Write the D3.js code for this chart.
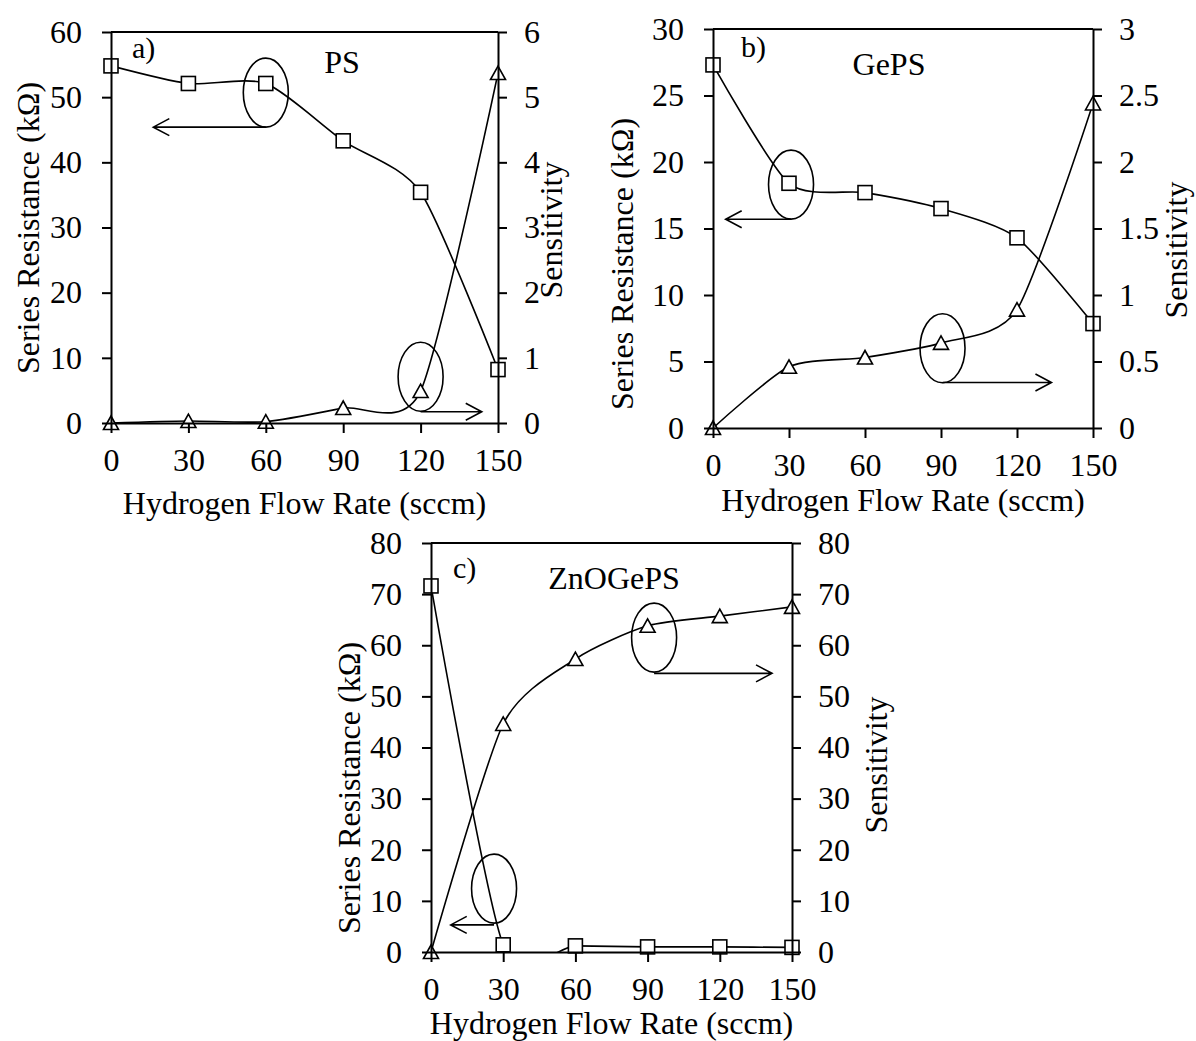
<!DOCTYPE html>
<html>
<head>
<meta charset="utf-8">
<script src="https://cdn.jsdelivr.net/npm/d3@7"></script>
<style>
  body { margin: 0; background: #fff; }
  svg text { font-family: "Liberation Serif", "Times New Roman", serif; fill: #000; }
  .axis path, .axis line { stroke: #000; stroke-width: 2; }
  .axis text { font-size: 32px; }
</style>
</head>
<body>
<script>
// --- Data ---
const flowRate = [0, 30, 60, 90, 120, 150];
const xTickValues = [0, 30, 60, 90, 120, 150];

// a) PS
const psResistance = [54.8, 52.1, 52.1, 43.3, 35.4, 8.2];
const psSensitivity = [0, 0.03, 0.02, 0.23, 0.49, 5.37];
const psResTicks = [0, 10, 20, 30, 40, 50, 60];
const psSensTicks = [0, 1, 2, 3, 4, 5, 6];

// b) GePS
const gepsResistance = [27.3, 18.4, 17.7, 16.5, 14.3, 7.85];
const gepsSensitivity = [0, 0.46, 0.53, 0.64, 0.89, 2.44];
const gepsResTicks = [0, 5, 10, 15, 20, 25, 30];
const gepsSensTicks = [0, 0.5, 1, 1.5, 2, 2.5, 3];

// c) ZnOGePS
const znoResistance = [71.6, 1.4, 1.2, 1.0, 1.0, 0.9];
const znoSensitivity = [0, 44.6, 57.3, 63.8, 65.7, 67.5];
const znoResTicks = [0, 10, 20, 30, 40, 50, 60, 70, 80];
const znoSensTicks = [0, 10, 20, 30, 40, 50, 60, 70, 80];

// ellipse + arrow annotations, in data units of the left axis: [x, y, arrowToX, arrowY]
const psMarks = [[60, 50.7, 16.4, 45.4], [120, 7.1, 143.7, 1.73]];
const gepsMarks = [[30.8, 18.3, 5.0, 15.7], [90.6, 6.0, 133.6, 3.42]];
const znoMarks = [[26.2, 12.4, 8.2, 5.3], [92.7, 61.5, 141.7, 54.5]];

const panels = [
  {id: "a", label: "a)", name: "PS", res: psResistance, sens: psSensitivity,
   resTicks: psResTicks, sensTicks: psSensTicks, marks: psMarks,
   left: 111, right: 498, top: 32, bottom: 423,
   labelPos: [132, 58], namePos: [342, 73], yTitle: [39, 228], sTitle: [562, 230], xTitleY: 514},
  {id: "b", label: "b)", name: "GePS", res: gepsResistance, sens: gepsSensitivity,
   resTicks: gepsResTicks, sensTicks: gepsSensTicks, marks: gepsMarks,
   left: 713, right: 1093, top: 29, bottom: 428,
   labelPos: [741, 57], namePos: [889, 75], yTitle: [633, 264], sTitle: [1187, 250], xTitleY: 511},
  {id: "c", label: "c)", name: "ZnOGePS", res: znoResistance, sens: znoSensitivity,
   resTicks: znoResTicks, sensTicks: znoSensTicks, marks: znoMarks,
   left: 431, right: 792, top: 543, bottom: 952,
   labelPos: [453, 578], namePos: [614, 589], yTitle: [360, 788], sTitle: [887, 765], xTitleY: 1034}
];

const svg = d3.select("body").append("svg")
    .attr("width", 1196).attr("height", 1041);

function drawPanel(p) {
    const g = svg.append("g").attr("class", "panel-" + p.id);

    const x = d3.scaleLinear().domain([0, 150]).range([p.left, p.right]);
    const yL = d3.scaleLinear().domain([0, d3.max(p.resTicks)]).range([p.bottom, p.top]);
    const yR = d3.scaleLinear().domain([0, d3.max(p.sensTicks)]).range([p.bottom, p.top]);

    // clip curves to plot area (Excel style)
    g.append("clipPath").attr("id", "clip-" + p.id)
      .append("rect")
        .attr("x", p.left).attr("y", p.top)
        .attr("width", p.right - p.left).attr("height", p.bottom - p.top);

    // smoothed lines, a bit tighter than plain Catmull-Rom
    const smooth = d3.curveCardinal.tension(0.3);
    const resLine = d3.line()
        .x((d, i) => x(flowRate[i]))
        .y(d => yL(d))
        .curve(smooth);
    const sensLine = d3.line()
        .x((d, i) => x(flowRate[i]))
        .y(d => yR(d))
        .curve(smooth);

    const curves = g.append("g").attr("clip-path", `url(#clip-${p.id})`)
        .attr("fill", "none").attr("stroke", "#000").attr("stroke-width", 1.6);
    curves.append("path").datum(p.res).attr("d", resLine);
    curves.append("path").datum(p.sens).attr("d", sensLine);

    // annotations: ellipses and arrows
    p.marks.forEach(m => {
        const cx = x(m[0]), cy = yL(m[1]);
        g.append("ellipse")
            .attr("cx", cx).attr("cy", cy).attr("rx", 22.5).attr("ry", 34.5)
            .attr("fill", "none").attr("stroke", "#000").attr("stroke-width", 1.6);
        const ax0 = x(m[0]), ax1 = x(m[2]), ay = yL(m[3]);
        const dir = ax1 > ax0 ? 1 : -1;
        g.append("path")
            .attr("d", `M${ax0},${ay}H${ax1}M${ax1 - dir * 16},${ay - 8.5}L${ax1},${ay}L${ax1 - dir * 16},${ay + 8.5}`)
            .attr("fill", "none").attr("stroke", "#000").attr("stroke-width", 1.6);
    });

    // markers
    g.append("g").selectAll("rect")
      .data(p.res)
      .join("rect")
        .attr("x", (d, i) => x(flowRate[i]) - 7)
        .attr("y", d => yL(d) - 7)
        .attr("width", 14).attr("height", 14)
        .attr("fill", "#fff").attr("stroke", "#000").attr("stroke-width", 1.6);

    g.append("g").selectAll("polygon")
      .data(p.sens)
      .join("polygon")
        .attr("points", (d, i) => {
            const cx = x(flowRate[i]), cy = yR(d);
            return `${cx - 7.5},${cy + 6.5} ${cx + 7.5},${cy + 6.5} ${cx},${cy - 7}`;
        })
        .attr("fill", "#fff").attr("stroke", "#000").attr("stroke-width", 1.6);

    // axes
    const fmt = d => String(d);
    g.append("g").attr("class", "axis")
        .attr("transform", `translate(${p.left},0)`)
        .call(d3.axisLeft(yL).tickValues(p.resTicks).tickFormat(fmt)
              .tickSize(9).tickSizeOuter(0).tickPadding(20));
    g.append("g").attr("class", "axis")
        .attr("transform", `translate(${p.right},0)`)
        .call(d3.axisRight(yR).tickValues(p.sensTicks).tickFormat(fmt)
              .tickSize(9).tickSizeOuter(0).tickPadding(17));
    g.append("g").attr("class", "axis")
        .attr("transform", `translate(0,${p.bottom})`)
        .call(d3.axisBottom(x).tickValues(xTickValues).tickFormat(fmt)
              .tickSize(10).tickSizeOuter(0).tickPadding(15));
    g.append("line")
        .attr("x1", p.left).attr("x2", p.right)
        .attr("y1", p.top).attr("y2", p.top)
        .attr("stroke", "#000").attr("stroke-width", 2);
    g.selectAll(".axis .domain").attr("fill", "none");

    // texts
    g.append("text").attr("x", p.labelPos[0]).attr("y", p.labelPos[1])
        .style("font-size", "30px").text(p.label);
    g.append("text").attr("x", p.namePos[0]).attr("y", p.namePos[1])
        .attr("text-anchor", "middle").style("font-size", "32px").text(p.name);

    g.append("text")
        .attr("transform", `translate(${p.yTitle[0]},${p.yTitle[1]}) rotate(-90)`)
        .attr("text-anchor", "middle").style("font-size", "32px")
        .text("Series Resistance (kΩ)");
    g.append("text")
        .attr("transform", `translate(${p.sTitle[0]},${p.sTitle[1]}) rotate(-90)`)
        .attr("text-anchor", "middle").style("font-size", "32px")
        .text("Sensitivity");
    g.append("text")
        .attr("x", (p.left + p.right) / 2).attr("y", p.xTitleY)
        .attr("text-anchor", "middle").style("font-size", "32px")
        .text("Hydrogen Flow Rate (sccm)");
}

panels.forEach(drawPanel);
</script>
</body>
</html>
